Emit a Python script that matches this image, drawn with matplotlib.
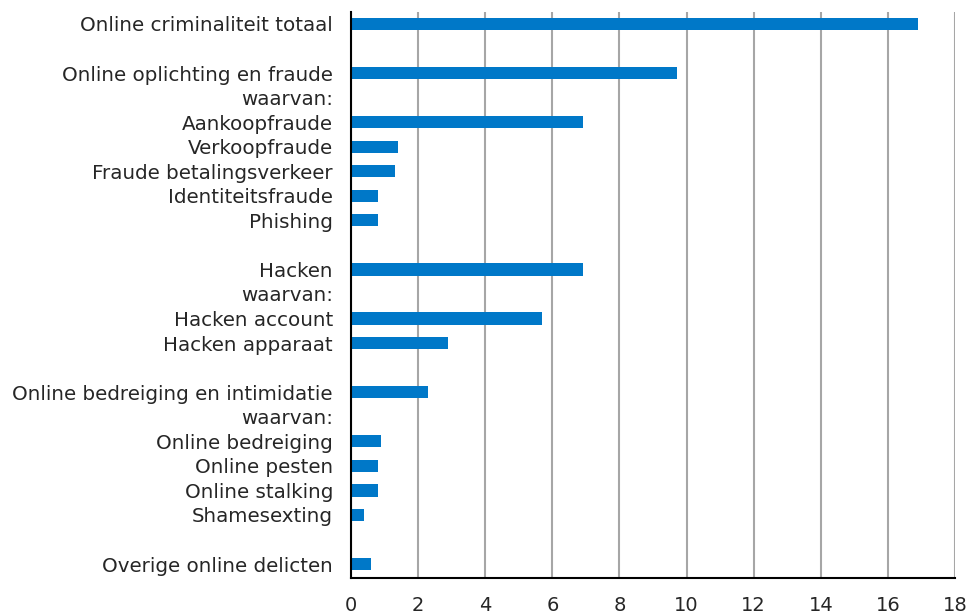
import numpy as np
import matplotlib.pyplot as plt

# labels, '' = lege regel
labels = ['Online criminaliteit totaal', '',
          'Online oplichting en fraude', 'waarvan:', 'Aankoopfraude', 'Verkoopfraude',
          'Fraude betalingsverkeer', 'Identiteitsfraude', 'Phishing', '',
          'Hacken', 'waarvan:', 'Hacken account', 'Hacken apparaat', '',
          'Online bedreiging en intimidatie', 'waarvan:', 'Online bedreiging',
          'Online pesten', 'Online stalking', 'Shamesexting', '',
          'Overige online delicten']
values = [16.9, 0,
          9.7, 0, 6.9, 1.4,
          1.3, 0.8, 0.8, 0,
          6.9, 0, 5.7, 2.9, 0,
          2.3, 0, 0.9,
          0.8, 0.8, 0.4, 0,
          0.6]
xticks = [0, 2, 4, 6, 8, 10, 12, 14, 16, 18]

plt.rcParams['font.family'] = ['DejaVu Sans']

fig = plt.figure(figsize=(9.7, 6.14), dpi=100)
ax = fig.add_axes([0.3619, 0.0586, 0.6227, 0.922])

y = np.arange(len(labels))
ax.barh(y, values, height=0.5, color='#0078c8', zorder=3)

ax.set_ylim(22.57, -0.49)
ax.set_xlim(0, 18)
ax.set_yticks(y)
ax.set_yticklabels(labels, fontsize=14.3, color='#262626')
ax.set_xticks(xticks)
ax.set_xticklabels([str(t) for t in xticks], fontsize=14, color='#262626')
ax.tick_params(axis='both', length=0)
ax.tick_params(axis='x', pad=13)
ax.tick_params(axis='y', pad=13)

ax.grid(axis='x', color='#a6a6a6', linewidth=1.5, zorder=0)
for s in ['top', 'right']:
    ax.spines[s].set_visible(False)
ax.spines['left'].set_linewidth(1.5)
ax.spines['bottom'].set_linewidth(1.5)
ax.spines['left'].set_zorder(4)

fig.savefig('out.png', dpi=100)
